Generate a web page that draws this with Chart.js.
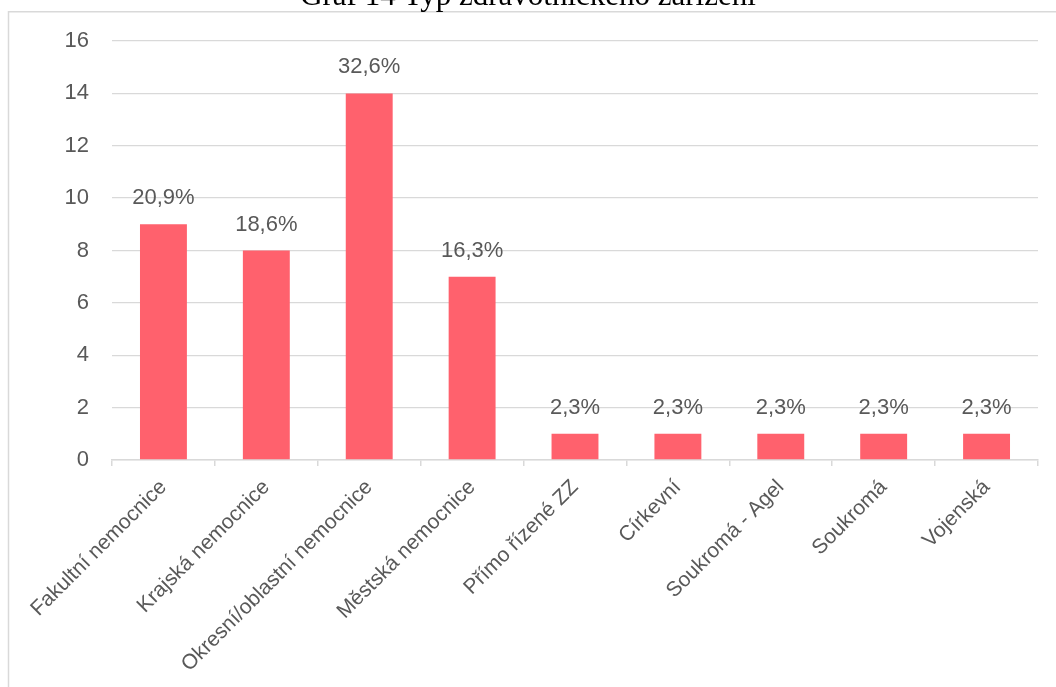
<!DOCTYPE html>
<html>
<head>
<meta charset="utf-8">
<script src="https://cdn.jsdelivr.net/npm/chart.js@4/dist/chart.umd.min.js"></script>
<style>
  html, body { margin: 0; padding: 0; background: #ffffff; }
  #wrap { width: 1056px; height: 687px; position: relative; }
</style>
</head>
<body>
<div id="wrap"><canvas id="c" width="1056" height="687"></canvas></div>
<script>
const chartTitle = 'Graf 14 Typ zdravotnického zařízení';
const categories = ['Fakultní nemocnice', 'Krajská nemocnice', 'Okresní/oblastní nemocnice', 'Městská nemocnice', 'Přímo řízené ZZ', 'Církevní', 'Soukromá - Agel', 'Soukromá', 'Vojenská'];
const counts = [9, 8, 14, 7, 1, 1, 1, 1, 1];
const percentLabels = ['20,9%', '18,6%', '32,6%', '16,3%', '2,3%', '2,3%', '2,3%', '2,3%', '2,3%'];
const yTicks = [0, 2, 4, 6, 8, 10, 12, 14, 16];

const TEXT = '#595959';
const LINE = '#d9d9d9';
const FONT = "'Liberation Sans', Arial, sans-serif";

const framePlugin = {
  id: 'frame',
  beforeDraw(chart) {
    const ctx = chart.ctx;
    ctx.save();
    ctx.fillStyle = '#ffffff';
    ctx.fillRect(0, 0, chart.width, chart.height);
    ctx.strokeStyle = LINE;
    ctx.lineWidth = 1.5;
    ctx.beginPath();
    ctx.moveTo(8.5, chart.height);
    ctx.lineTo(8.5, 11.75);
    ctx.lineTo(chart.width, 11.75);
    ctx.stroke();
    ctx.fillStyle = '#000000';
    ctx.font = "31px 'Liberation Serif', 'Times New Roman', serif";
    ctx.textAlign = 'center';
    ctx.textBaseline = 'alphabetic';
    ctx.fillText(chartTitle, 528, 5);
    ctx.restore();
  }
};

const valueLabelPlugin = {
  id: 'valueLabels',
  afterDatasetsDraw(chart) {
    const ctx = chart.ctx;
    const meta = chart.getDatasetMeta(0);
    ctx.save();
    ctx.fillStyle = TEXT;
    ctx.font = '22px ' + FONT;
    ctx.textAlign = 'center';
    ctx.textBaseline = 'alphabetic';
    meta.data.forEach((bar, i) => {
      ctx.fillText(percentLabels[i], bar.x, bar.y - 20);
    });
    ctx.restore();
  }
};

new Chart(document.getElementById('c'), {
  type: 'bar',
  data: {
    labels: categories,
    datasets: [{
      data: counts,
      backgroundColor: '#FF616D',
      borderWidth: 0,
      categoryPercentage: 1.0,
      barPercentage: 0.456
    }]
  },
  options: {
    responsive: false,
    animation: false,
    devicePixelRatio: 1,
    layout: { padding: { left: 0, right: 18, top: 41, bottom: 0 } },
    plugins: {
      legend: { display: false },
      title: { display: false },
      tooltip: { enabled: false }
    },
    scales: {
      x: {
        offset: true,
        border: { display: true, color: LINE, width: 1.5 },
        grid: { display: true, drawOnChartArea: false, drawTicks: true, tickLength: 6, color: LINE, lineWidth: 1.5, offset: true },
        ticks: {
          autoSkip: false, maxRotation: 45, minRotation: 45,
          color: TEXT, font: { size: 21, family: FONT }, padding: 9
        },
        afterFit(scale) { scale.height = 227; }
      },
      y: {
        min: 0, max: 16,
        border: { display: false },
        grid: { color: LINE, lineWidth: 1.3, drawTicks: false },
        afterBuildTicks(scale) { scale.ticks = yTicks.map(v => ({ value: v })); },
        ticks: { color: TEXT, font: { size: 22, family: FONT }, padding: 23 },
        afterFit(scale) { scale.width = 112; }
      }
    }
  },
  plugins: [framePlugin, valueLabelPlugin]
});
</script>
</body>
</html>
